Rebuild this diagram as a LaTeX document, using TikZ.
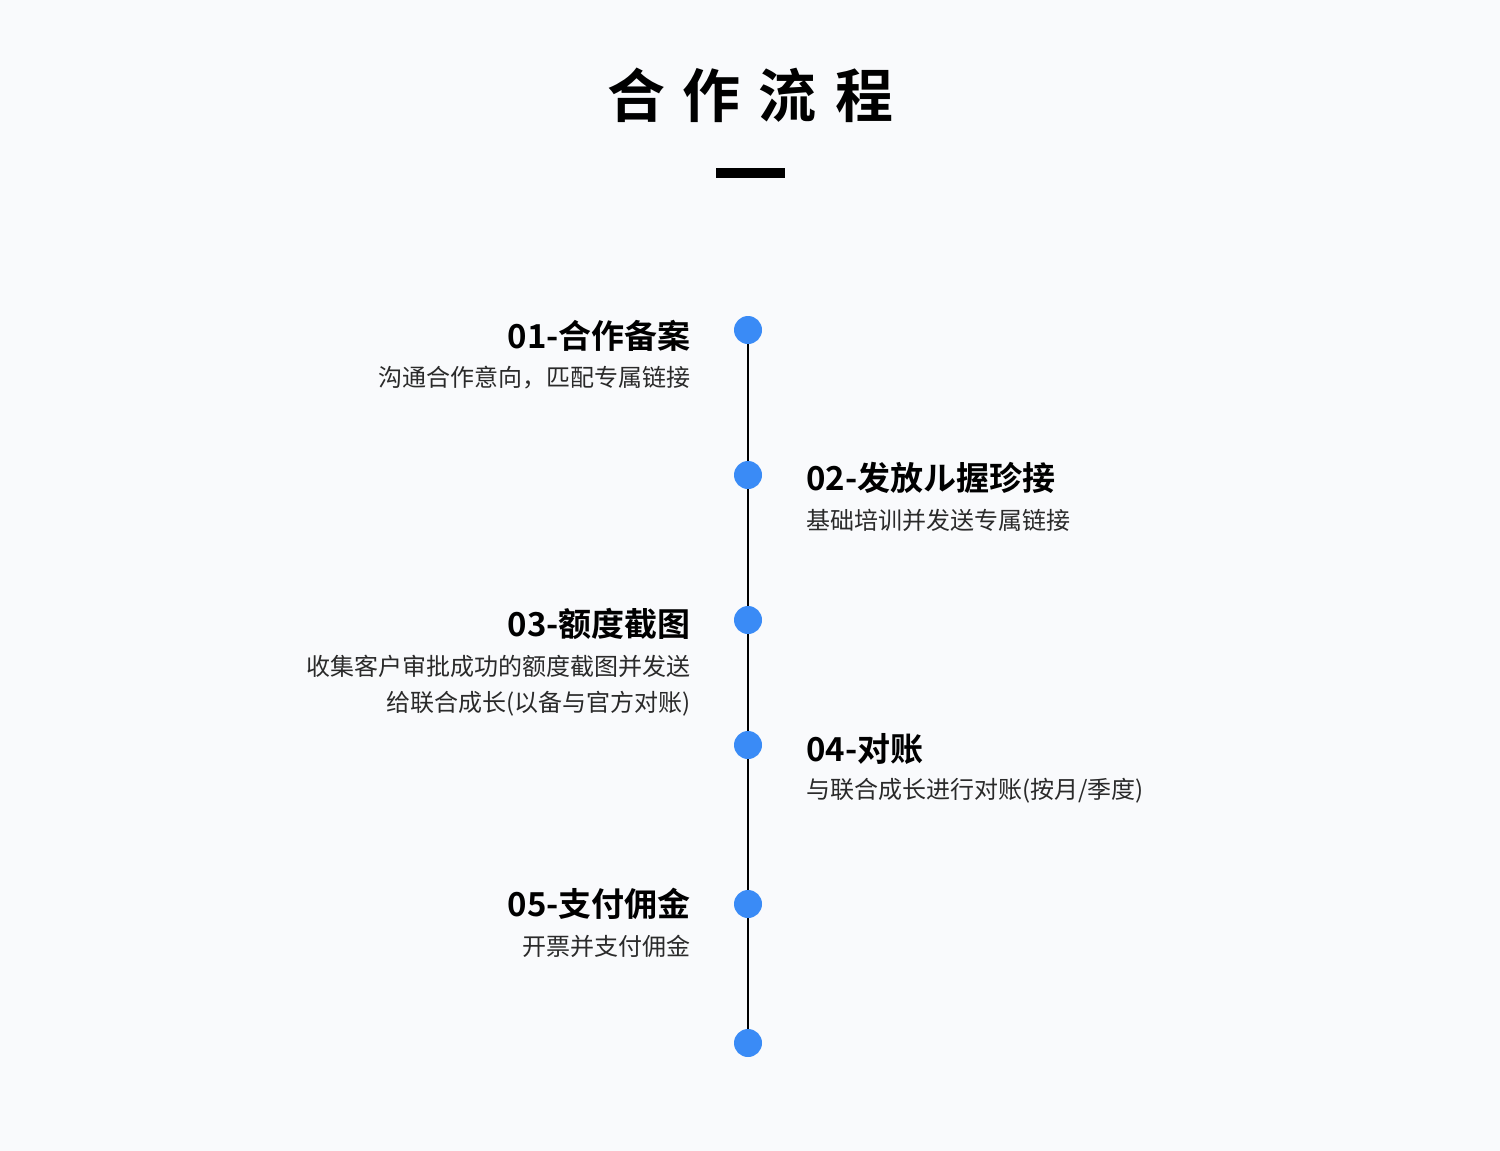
\documentclass[tikz,border=0pt]{standalone}
\usepackage{fontspec}
\usepackage{xcolor}
\setmainfont{Noto Sans CJK SC}
\newfontfamily\cjk{Noto Sans CJK SC}
\newfontfamily\cjkbold{Noto Sans CJK SC Bold}
\definecolor{bgcol}{HTML}{F9FAFC}
\definecolor{dotblue}{HTML}{3A8BF6}
\definecolor{subgray}{HTML}{2A2A2A}
\usetikzlibrary{positioning}

\begin{document}
\begin{tikzpicture}[x=1pt,y=-1pt,
    dot/.style={circle,fill=dotblue,minimum size=28pt,inner sep=0pt},
    steptitle/.style={inner sep=0pt,font=\cjkbold\fontsize{33}{38}\selectfont},
    stepsub/.style={inner sep=0pt,text=subgray,font=\cjk\fontsize{24}{38}\selectfont},
    lefttext/.style={anchor=east},
    righttext/.style={anchor=west}]
		\fill[bgcol] (0,0) rectangle (1500,1151);
		\useasboundingbox (0,0) rectangle (1500,1151);
		
		\node[inner sep=0pt,font=\cjkbold\fontsize{58}{60}\selectfont] (title) at (750,95) {合\hspace{18pt}作\hspace{18pt}流\hspace{18pt}程};
		\fill (716,168) rectangle (785,178);
		
		% the line with its dots
		\coordinate (d1) at (748,330);
		\coordinate (d2) at (748,475);
		\coordinate (d3) at (748,620);
		\coordinate (d4) at (748,745);
		\coordinate (d5) at (748,904);
		\coordinate (d6) at (748,1043);
		\draw[line width=2pt] (d1) -- (d6);
		\foreach \n in {1,...,6} \node[dot] (dot\n) at (d\n) {};
		
		% left side
		\node[steptitle,lefttext] (t1) at (691,336) {01-合作备案};
		\node[stepsub,lefttext] (s1) at (691,378) {沟通合作意向，匹配专属链接};
		
		\node[steptitle,lefttext] (t3) at (691,624) {03-额度截图};
		\node[stepsub,lefttext] (s3a) at (691,666) {收集客户审批成功的额度截图并发送};
		\node[stepsub,lefttext] (s3b) at (691,704) {给联合成长(以备与官方对账)};
		
		\node[steptitle,lefttext] (t5) at (691,904) {05-支付佣金};
		\node[stepsub,lefttext] (s5) at (691,946) {开票并支付佣金};
		
		% right side
		\node[steptitle,righttext] (t2) at (806,478) {02-发放ル握珍接};
		\node[stepsub,righttext] (s2) at (806,520) {基础培训并发送专属链接};
		
		\node[steptitle,righttext] (t4) at (806,749) {04-对账};
		\node[stepsub,righttext] (s4) at (806,791) {与联合成长进行对账(按月/季度)};
\end{tikzpicture}
\end{document}
